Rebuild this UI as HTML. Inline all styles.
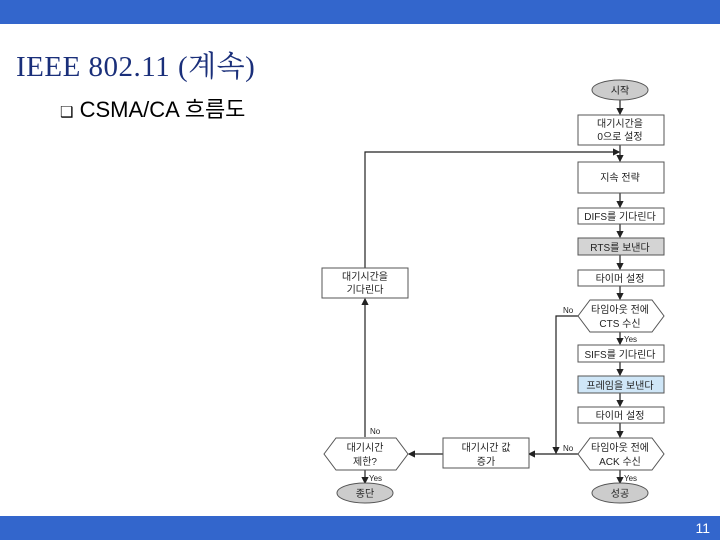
<!DOCTYPE html>
<html><head><meta charset="utf-8"><style>
body{margin:0;width:720px;height:540px;position:relative;background:#fff;overflow:hidden;font-family:"Liberation Sans","Noto Sans CJK KR",sans-serif}
.bar{position:absolute;left:0;width:720px;background:#3366cc}
</style></head><body>
<div class="bar" style="top:0;height:24px"></div>
<div class="bar" style="top:516px;height:24px"></div>
<div style="position:absolute;left:16px;top:44px;font:29px 'Liberation Serif','Noto Serif CJK SC',serif;color:#1a2f7a;letter-spacing:0.5px">IEEE 802.11 (계속)</div>
<div style="position:absolute;left:60px;top:92px;font-size:22px;color:#000"><span style="font-size:15px">❑</span> CSMA/CA 흐름도</div>
<div style="position:absolute;right:10px;top:520px;color:#fff;font-size:14px">11</div>
<svg width="720" height="540" style="position:absolute;left:0;top:0" font-family="Liberation Sans,Noto Sans CJK KR,sans-serif" font-size="10" text-anchor="middle">
<defs><marker id="a" markerWidth="6" markerHeight="6" refX="5" refY="3" orient="auto"><path d="M0,0L6,3L0,6z" fill="#222"/></marker></defs>
<g stroke="#222" stroke-width="1.2" fill="none">
<line x1="620" y1="100" x2="620" y2="114" marker-end="url(#a)"/>
<line x1="620" y1="145" x2="620" y2="161" marker-end="url(#a)"/>
<line x1="620" y1="193" x2="620" y2="207" marker-end="url(#a)"/>
<line x1="620" y1="224" x2="620" y2="237" marker-end="url(#a)"/>
<line x1="620" y1="255" x2="620" y2="269" marker-end="url(#a)"/>
<line x1="620" y1="286" x2="620" y2="299" marker-end="url(#a)"/>
<line x1="620" y1="332" x2="620" y2="344" marker-end="url(#a)"/>
<line x1="620" y1="362" x2="620" y2="375" marker-end="url(#a)"/>
<line x1="620" y1="393" x2="620" y2="406" marker-end="url(#a)"/>
<line x1="620" y1="423" x2="620" y2="437" marker-end="url(#a)"/>
<line x1="620" y1="470" x2="620" y2="483" marker-end="url(#a)"/>
<line x1="365" y1="470" x2="365" y2="483" marker-end="url(#a)"/>
<polyline points="365,268 365,152 619,152" marker-end="url(#a)"/>
<line x1="365" y1="437" x2="365" y2="299" marker-end="url(#a)"/>
<polyline points="580,316 556,316 556,453" marker-end="url(#a)"/>
<line x1="580" y1="454" x2="529" y2="454" marker-end="url(#a)"/>
<line x1="443" y1="454" x2="409" y2="454" marker-end="url(#a)"/>
</g>
<g stroke="#555" stroke-width="1">
<ellipse cx="620" cy="90" rx="28" ry="10" fill="#ccc"/>
<ellipse cx="620" cy="493" rx="28" ry="10" fill="#ccc"/>
<ellipse cx="365" cy="493" rx="28" ry="10" fill="#ccc"/>
<rect x="578" y="115" width="86" height="30" fill="#fff"/>
<rect x="578" y="162" width="86" height="31" fill="#fff"/>
<rect x="578" y="208" width="86" height="16" fill="#fff"/>
<rect x="578" y="238" width="86" height="17" fill="#d4d4d4"/>
<rect x="578" y="270" width="86" height="16" fill="#fff"/>
<polygon points="578,316 590,300 652,300 664,316 652,332 590,332" fill="#fff"/>
<rect x="578" y="345" width="86" height="17" fill="#fff"/>
<rect x="578" y="376" width="86" height="17" fill="#cfe6f7"/>
<rect x="578" y="407" width="86" height="16" fill="#fff"/>
<polygon points="578,454 590,438 652,438 664,454 652,470 590,470" fill="#fff"/>
<rect x="322" y="268" width="86" height="30" fill="#fff"/>
<polygon points="324,454 336,438 396,438 408,454 396,470 336,470" fill="#fff"/>
<rect x="443" y="438" width="86" height="30" fill="#fff"/>
</g>
<g fill="#222">
<text x="620" y="94">시작</text>
<text x="620" y="127">대기시간을</text><text x="620" y="140">0으로 설정</text>
<text x="620" y="181">지속 전략</text>
<text x="620" y="220">DIFS를 기다린다</text>
<text x="620" y="251">RTS를 보낸다</text>
<text x="620" y="282">타이머 설정</text>
<text x="620" y="313">타임아웃 전에</text><text x="620" y="327">CTS 수신</text>
<text x="620" y="358">SIFS를 기다린다</text>
<text x="620" y="389">프레임을 보낸다</text>
<text x="620" y="419">타이머 설정</text>
<text x="620" y="451">타임아웃 전에</text><text x="620" y="465">ACK 수신</text>
<text x="620" y="497">성공</text>
<text x="365" y="280">대기시간을</text><text x="365" y="293">기다린다</text>
<text x="365" y="451">대기시간</text><text x="365" y="465">제한?</text>
<text x="486" y="451">대기시간 값</text><text x="486" y="465">증가</text>
<text x="365" y="497">종단</text>
<g font-size="8" text-anchor="start"><text x="563" y="313">No</text><text x="563" y="451">No</text><text x="370" y="434">No</text>
<text x="624" y="342">Yes</text><text x="624" y="481">Yes</text><text x="369" y="481">Yes</text></g>
</g>
</svg>
</body></html>
